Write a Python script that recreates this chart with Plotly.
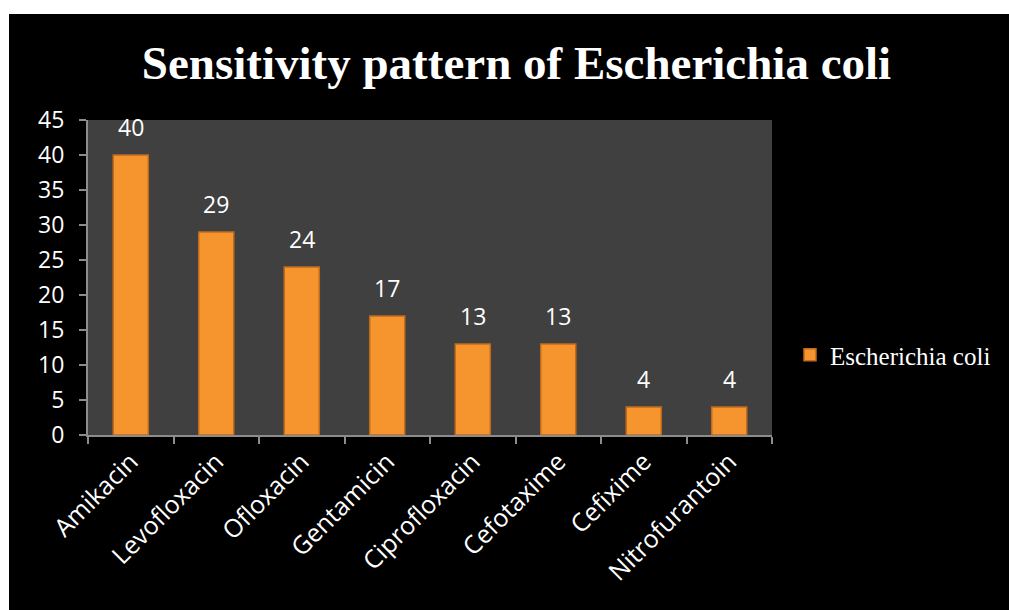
import plotly.graph_objects as go

categories = ["Amikacin", "Levofloxacin", "Ofloxacin", "Gentamicin",
              "Ciprofloxacin", "Cefotaxime", "Cefixime", "Nitrofurantoin"]
values = [40, 29, 24, 17, 13, 13, 4, 4]
series_name = "Escherichia coli"
title_text = "Sensitivity pattern of Escherichia coli"

W, H = 1009, 610
L, R, T, B = 88, 772, 120, 435

fig = go.Figure()
fig.add_trace(go.Bar(
    x=categories, y=values, name=series_name, width=0.41,
    marker=dict(color="#F6952D", line=dict(color="#C06A1C", width=1.5)),
    showlegend=True,
))

annotations = [
    dict(x=c, y=v, text=str(v), xref="x", yref="y", showarrow=False,
         yanchor="bottom", yshift=10,
         font=dict(family="Open Sans", size=23, color="white"))
    for c, v in zip(categories, values)
]

fig.update_layout(
    width=W, height=H,
    margin=dict(l=L, r=W - R, t=T, b=H - B, pad=0, autoexpand=False),
    paper_bgcolor="black",
    plot_bgcolor="#404040",
    title=dict(text="<b>" + title_text + "</b>", x=516.5 / W, xref="container",
               xanchor="center", y=1 - 63 / H, yref="container", yanchor="middle",
               font=dict(family="Liberation Serif", size=47, color="white")),
    annotations=annotations,
    showlegend=True,
    legend=dict(x=(790 - L) / (R - L), xanchor="left", y=(B - 355) / (B - T),
                yanchor="middle", bgcolor="rgba(0,0,0,0)", borderwidth=0,
                itemwidth=30,
                font=dict(family="Liberation Serif", size=25, color="white")),
    bargap=0.59,
    shapes=[
        dict(type="rect", xref="paper", yref="paper",
             x0=-L / (R - L), x1=(W - L) / (R - L),
             y0=(B - 14) / (B - T), y1=B / (B - T) + 0.01,
             fillcolor="white", line=dict(width=0), layer="above"),
        dict(type="rect", xref="paper", yref="paper",
             x0=-L / (R - L) - 0.01, x1=(9 - L) / (R - L),
             y0=-(H - B) / (B - T) - 0.01, y1=B / (B - T) + 0.01,
             fillcolor="white", line=dict(width=0), layer="above"),
    ],
)

fig.update_xaxes(
    showgrid=False, showline=True, linecolor="#8C8C8C", linewidth=2,
    ticks="outside", ticklen=7, tickcolor="#8C8C8C", tickwidth=2,
    tickson="boundaries", tickangle=-45,
    tickfont=dict(family="Open Sans", size=25, color="white"),
)
fig.update_yaxes(
    range=[0, 45], dtick=5, showgrid=False, zeroline=False,
    showline=True, linecolor="#8C8C8C", linewidth=2,
    ticks="outside", ticklen=7, tickcolor="#8C8C8C", tickwidth=2,
    ticklabelstandoff=10,
    tickfont=dict(family="Open Sans", size=23, color="white"),
)

fig.write_html("out.html")
